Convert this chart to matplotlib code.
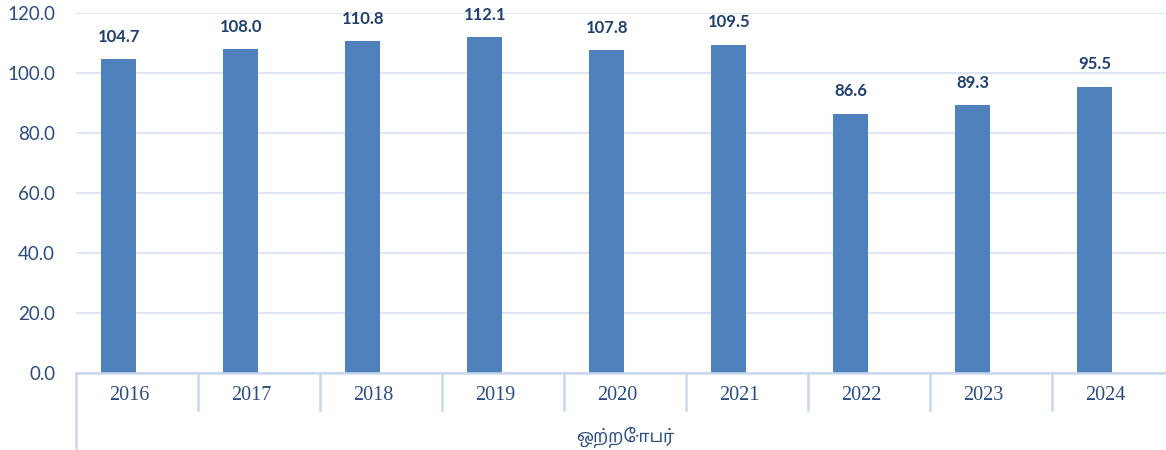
import matplotlib
matplotlib.use("Agg")
import matplotlib.pyplot as plt
import matplotlib.transforms as mtransforms

years = ["2016", "2017", "2018", "2019", "2020", "2021", "2022", "2023", "2024"]
values = [104.7, 108.0, 110.8, 112.1, 107.8, 109.5, 86.6, 89.3, 95.5]
group_label = "ஒற்றோபர்"
y_ticks = [0, 20, 40, 60, 80, 100, 120]

bar_color = "#4F81BD"
label_color = "#1F3F6E"
tick_color = "#2B4C80"
grid_color = "#D9E2F1"
axis_color = "#C9D8EE"

fig = plt.figure(figsize=(11.66, 4.5), dpi=100)
ax = fig.add_axes([76/1166, 76.7/450, (1174-76)/1166, (373.3-13.3)/450])

x = list(range(len(years)))
bw = 0.287
xpos = [i - 0.148 for i in x]
ax.bar(xpos, values, width=bw, color=bar_color, zorder=3)

for xi, v in zip(xpos, values):
    ax.annotate(f"{v:.1f}", (xi, v), xytext=(0, 12.5), textcoords="offset points",
                ha="center", va="baseline", fontsize=12, fontweight="bold",
                color=label_color, family="Lato")

ax.set_xlim(-0.5, len(years) - 0.5)
ax.set_ylim(0, 120)
ax.set_yticks(y_ticks)
ax.set_yticklabels([f"{t:.1f}" for t in y_ticks], fontsize=13.5, color=tick_color,
                   family="Lato")
ax.tick_params(axis="y", length=0, pad=15)
ax.yaxis.grid(True, color=grid_color, linewidth=1.2, zorder=0)
ax.set_axisbelow(True)

ax.set_xticks([i - 0.06 for i in x])
ax.set_xticklabels(years, fontsize=14.5, color=tick_color, family="Liberation Serif")
ax.tick_params(axis="x", length=0, pad=9)

for s in ["top", "right", "left"]:
    ax.spines[s].set_visible(False)
ax.spines["bottom"].set_color(axis_color)
ax.spines["bottom"].set_linewidth(1.8)
ax.spines["bottom"].set_zorder(4)

trans = mtransforms.blended_transform_factory(ax.transData, ax.transAxes)
sep_depth = (410 - 373.3) / 360
for b in [i + 0.5 for i in range(len(years) - 1)]:
    ax.plot([b, b], [0, -sep_depth], transform=trans, color=axis_color,
            linewidth=1.8, clip_on=False)
ax.plot([-0.5, -0.5], [0, -(448 - 373.3) / 360], transform=trans, color=axis_color,
        linewidth=1.8, clip_on=False)

ax.text((625 - 76) / (1174 - 76), -(437 - 373.3) / 360, group_label,
        transform=ax.transAxes, ha="center", va="center", fontsize=12.5,
        color=tick_color,
        family=["Noto Sans Tamil", "Lohit Tamil", "Noto Sans", "DejaVu Sans"])

fig.savefig("out.png", dpi=100)
